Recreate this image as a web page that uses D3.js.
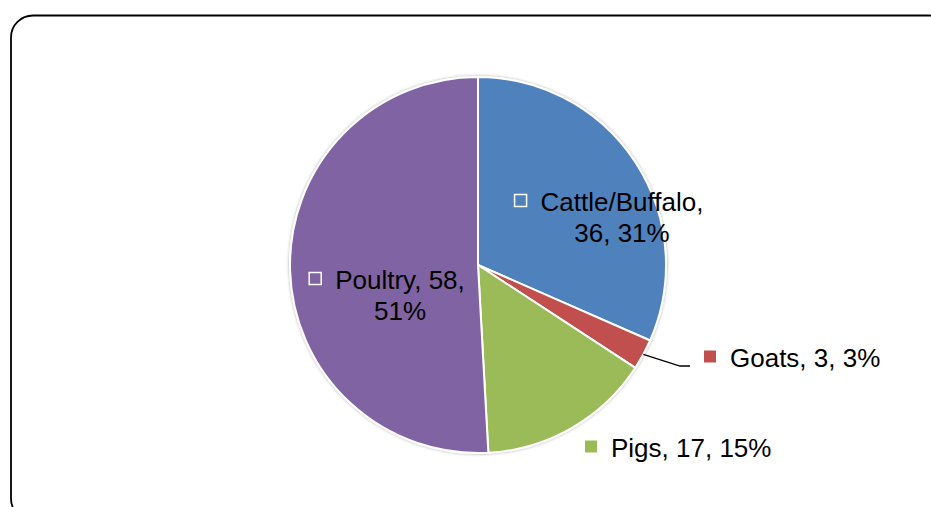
<!DOCTYPE html>
<html>
<head>
<meta charset="utf-8">
<script src="https://cdn.jsdelivr.net/npm/d3@7"></script>
<style>
  body { margin: 0; background: #fff; }
  text { font-family: "Liberation Sans", Arial, sans-serif; font-size: 26px; fill: #000; }
</style>
</head>
<body>
<svg id="chart" width="931" height="507"></svg>
<script>
var categories = ['Cattle/Buffalo', 'Goats', 'Pigs', 'Poultry']
var values = [36, 3, 17, 58]
var percents = ['31%', '3%', '15%', '51%']
var colors = ['#4F81BD', '#C0504D', '#9BBB59', '#8064A2']

// label text split into lines, as in the original
var labelLines = [
  ['Cattle/Buffalo,', '36, 31%'],
  ['Goats, 3, 3%'],
  ['Pigs, 17, 15%'],
  ['Poultry, 58,', '51%']
]

const cx = 478
const cy = 265
const radius = 188
const lineGap = 31

// label placement relative to the pie centre: [dx, dy of first baseline, anchor]
var labelPlace = [
  [144, -54, 'middle'],
  [252, 102, 'start'],
  [133, 192, 'start'],
  [-78, 24, 'middle']
]

var svg = d3.select('#chart')

svg.append('rect')
   .attr('x', 11)
   .attr('y', 15.5)
   .attr('width', 940)
   .attr('height', 505)
   .attr('rx', 22)
   .attr('fill', 'none')
   .attr('stroke', '#000')
   .attr('stroke-width', 1.8)

var defs = svg.append('defs')
var f = defs.append('filter').attr('id', 'shadow')
              .attr('x', '-10%').attr('y', '-10%')
              .attr('width', '120%').attr('height', '120%')
f.append('feDropShadow')
 .attr('dx', 0).attr('dy', 0)
 .attr('stdDeviation', 1.5)
 .attr('flood-color', '#000')
 .attr('flood-opacity', 0.35)

var pie = d3.pie().sort(null).value(d => d)
var arcs = pie(values)
var arc = d3.arc().innerRadius(0).outerRadius(radius)

var g = svg.append('g')
           .attr('transform', 'translate(' + cx + ',' + cy + ')')

g.append('g')
 .attr('filter', 'url(#shadow)')
 .selectAll('path')
 .data(arcs)
 .join('path')
 .attr('d', arc)
 .attr('fill', (d, i) => colors[i])
 .attr('stroke', '#fff')
 .attr('stroke-width', 2)

// leader line for the small Goats slice
var goat = arcs[1]
var mid = (goat.startAngle + goat.endAngle) / 2
var p0 = [Math.sin(mid) * radius, -Math.cos(mid) * radius]
var elbowY = labelPlace[1][1] - 1
g.append('polyline')
 .attr('points', [p0, [labelPlace[1][0] - 50, elbowY], [labelPlace[1][0] - 40, elbowY]].map(p => p.join(',')).join(' '))
 .attr('fill', 'none')
 .attr('stroke', '#000')
 .attr('stroke-width', 1.3)

var labels = g.append('g').attr('id', 'labels')

arcs.forEach((d, i) => {
  var pl = labelPlace[i]
  var t = labels.append('text')
                .attr('text-anchor', pl[2])
  labelLines[i].forEach((line, j) => {
    t.append('tspan')
     .attr('x', pl[0])
     .attr('y', pl[1] + j * lineGap)
     .text(line)
  })
  var w = t.select('tspan').node().getComputedTextLength()
  var left = pl[2] === 'middle' ? pl[0] - w / 2 : pl[0]
  var inside = i === 0 || i === 3
  labels.append('rect')
        .attr('x', left - 26)
        .attr('y', pl[1] - 16.5)
        .attr('width', 12)
        .attr('height', 12)
        .attr('fill', inside ? 'none' : colors[i])
        .attr('stroke', inside ? '#fff' : 'none')
        .attr('stroke-width', 1.5)
})
</script>
</body>
</html>
